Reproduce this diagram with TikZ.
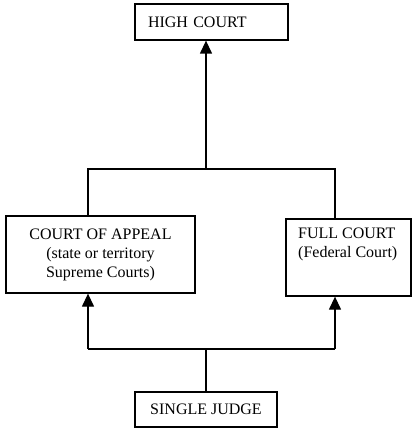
\documentclass[tikz,border=0pt]{standalone}
\usepackage{fontspec}
\setmainfont{Liberation Serif}
\usetikzlibrary{arrows.meta}
\begin{document}
\begin{tikzpicture}[x=1pt,y=-1pt,
  every node/.style={font=\fontsize{16}{19}\selectfont},
  box/.style={draw,line width=1.3pt,rectangle,inner sep=0pt},
  conn/.style={line width=1.3pt},
  arr/.style={conn,-{Triangle[length=13pt,width=12pt]}}]
\useasboundingbox (0,0) rectangle (412,428);
\node[box,minimum width=153,minimum height=36,text width=127,align=left,inner xsep=13pt] (high) at (211.5,22) {HIGH COURT};
\node[box,minimum width=189,minimum height=77,align=center] (appeal) at (100.5,254.5) {COURT OF APPEAL\\(state or territory\\Supreme Courts)};
\node[box,minimum width=125,minimum height=77] (full) at (348.5,257.5) {};
\node[anchor=north west,align=left,inner sep=0pt] (fulltext) at (298,228) {FULL COURT\\(Federal Court)};
\node[box,minimum width=142,minimum height=35] (single) at (206,409.5) {SINGLE JUDGE};
\coordinate (bl) at (88,349);
\coordinate (br) at (335,349);
\coordinate (bm) at (206,349);
\coordinate (tl) at (88,169);
\coordinate (tr) at (335,169);
\coordinate (tm) at (206,169);
\draw[conn] (single.north) -- (bm);
\draw[conn] (bl) -- (br);
\draw[arr] (bl) -- (bl |- appeal.south);
\draw[arr] (br) -- (br |- full.south);
\draw[conn] (tl |- appeal.north) -- (tl) -- (tr) -- (tr |- full.north);
\draw[arr] (tm) -- (tm |- high.south);
\end{tikzpicture}
\end{document}
